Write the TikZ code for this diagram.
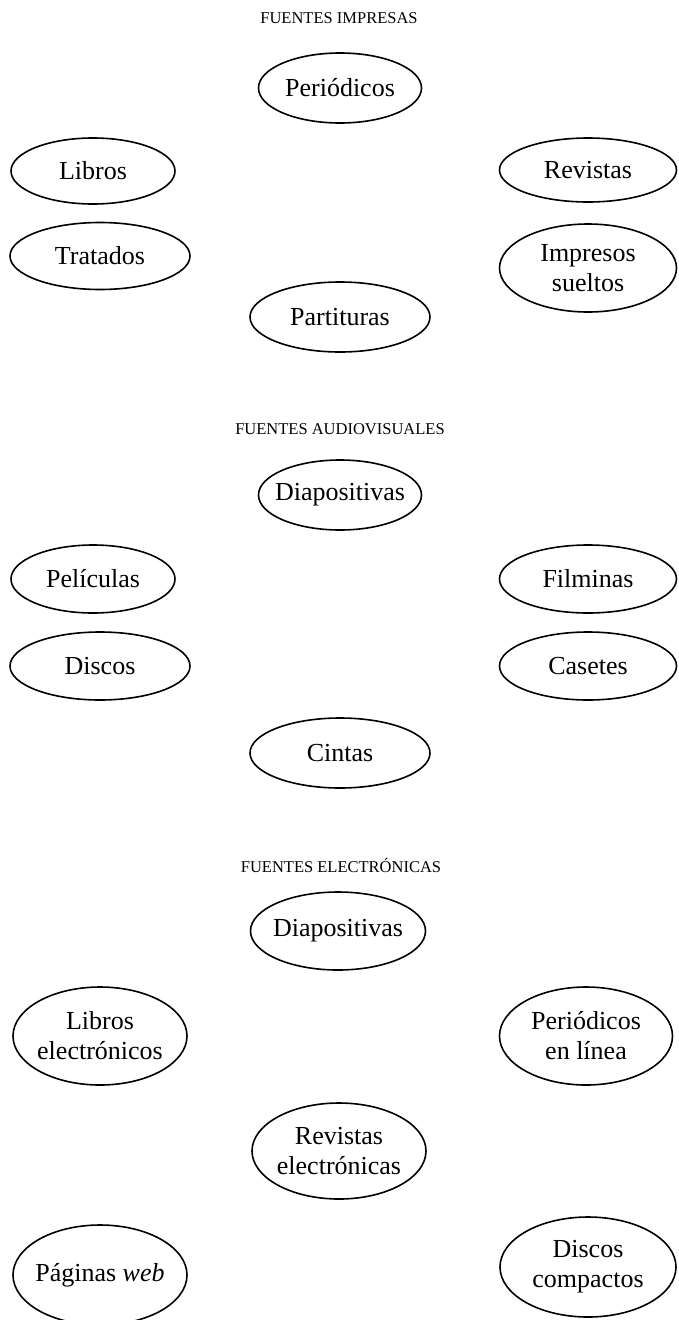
\documentclass[tikz,border=0pt]{standalone}
\usepackage{fontspec}
\setmainfont{Liberation Serif}
\usetikzlibrary{shapes.geometric}
\begin{document}
\begin{tikzpicture}[x=1pt,y=-1pt,
  oval/.style 2 args={draw, ellipse, line width=1.6pt, inner xsep=-20pt, inner ysep=0pt,
    minimum width=#1, minimum height=#2, align=center,
    font=\fontsize{26}{30}\selectfont},
  ttl/.style={inner sep=0pt, font=\fontsize{16.5}{19}\selectfont}]
\useasboundingbox (0,0) rectangle (678,1320);
% Fuentes impresas
\node[ttl] (t1) at (339,18) {FUENTES IMPRESAS};
\node[oval={163pt}{70pt}] (per) at (340,88) {Periódicos};
\node[oval={164pt}{66pt}] (lib) at (93,171) {Libros};
\node[oval={177pt}{64pt}] (rev) at (588,170) {Revistas};
\node[oval={180pt}{67pt}] (tra) at (100,256) {Tratados};
\node[oval={177pt}{88pt}] (imp) at (588,268) {Impresos\\sueltos};
\node[oval={180pt}{70pt}] (par) at (340,317) {Partituras};
% Fuentes audiovisuales
\node[ttl] (t2) at (340,429) {FUENTES AUDIOVISUALES};
\node[oval={163pt}{70pt}] (dia) at (340,495) {Diapositivas};
\node[oval={164pt}{68pt}] (pel) at (93,579) {Películas};
\node[oval={177pt}{68pt}] (fil) at (588,579) {Filminas};
\node[oval={180pt}{68pt}] (dis) at (100,666) {Discos};
\node[oval={177pt}{68pt}] (cas) at (588,666) {Casetes};
\node[oval={180pt}{70pt}] (cin) at (340,753) {Cintas};
% Fuentes electronicas
\node[ttl] (t3) at (341,865) {FUENTES ELECTRÓNICAS};
\node[oval={175pt}{78pt}] (dia2) at (338,931) {Diapositivas};
\node[oval={174pt}{98pt}] (libe) at (100,1036) {Libros\\electrónicos};
\node[oval={173pt}{98pt}] (pere) at (586,1036) {Periódicos\\en línea};
\node[oval={174pt}{96pt}] (reve) at (339,1151) {Revistas\\electrónicas};
\node[oval={174pt}{100pt}] (pag) at (100,1275) {Páginas \textit{web}};
\node[oval={176pt}{100pt}] (dco) at (588,1267) {Discos\\compactos};
\end{tikzpicture}
\end{document}
